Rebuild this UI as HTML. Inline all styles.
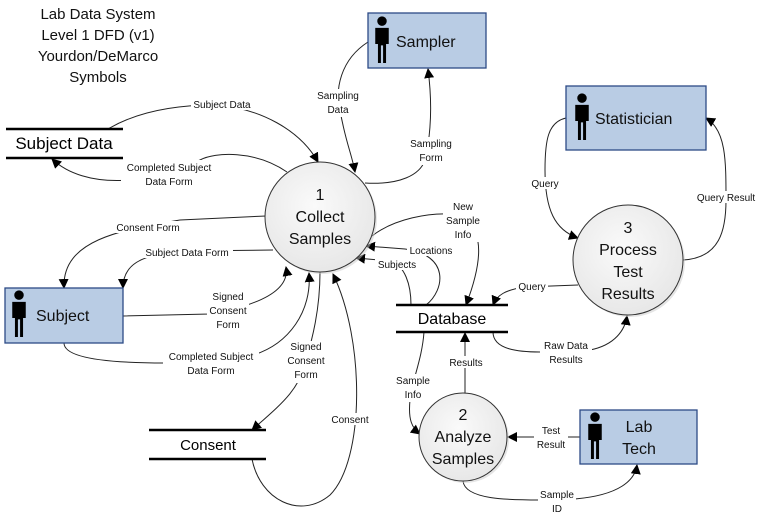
<!DOCTYPE html>
<html><head><meta charset="utf-8"><style>
html,body{margin:0;padding:0;background:#fff;}
svg{display:block;}
text{font-family:"Liberation Sans",sans-serif;}
.lbl{font-size:10px;fill:#111;text-anchor:middle;}
.e{fill:none;stroke:#222;stroke-width:1;}
.box{fill:#b9cce4;stroke:#2c4a86;stroke-width:1.3;}
.circ{fill:url(#g);stroke:#333;stroke-width:1;}
.bt{font-size:16px;fill:#111;}
.ct{font-size:16px;fill:#111;text-anchor:middle;}
.bg{fill:#fff;}
</style></head><body>
<svg width="766" height="518" viewBox="0 0 766 518" xmlns="http://www.w3.org/2000/svg">
<defs>
<marker id="a" markerWidth="10" markerHeight="10" refX="9" refY="5" orient="auto" markerUnits="userSpaceOnUse"><path d="M0,0 L10,5 L0,10 z" fill="#000"/></marker>
<radialGradient id="g" cx="45%" cy="40%" r="65%"><stop offset="0" stop-color="#fafafa"/><stop offset="1" stop-color="#e6e6e6"/></radialGradient>
<g id="p"><g transform="scale(1.35)"><circle cx="0" cy="-14" r="3.5" fill="#000"/><path d="M-5,-9 L5,-9 L5,3 L3,3 L3,17 L0.8,17 L0.8,4 L-0.8,4 L-0.8,17 L-3,17 L-3,3 L-5,3 z" fill="#000"/></g></g>
</defs>

<g font-size="15" fill="#111" text-anchor="middle">
<text x="98" y="19">Lab Data System</text>
<text x="98" y="40">Level 1 DFD (v1)</text>
<text x="98" y="61">Yourdon/DeMarco</text>
<text x="98" y="82">Symbols</text>
</g>

<path class="e" marker-end="url(#a)" d="M108,129 C140,110 180,105 215,105 C260,108 300,130 318,162"/>
<path class="e" marker-end="url(#a)" d="M287,172 C255,150 215,152 200,160 C150,185 85,190 52,159"/>
<path class="e" marker-end="url(#a)" d="M266,216 L180,220 C120,230 62,240 64,288"/>
<path class="e" marker-end="url(#a)" d="M273,250 L180,251 C140,255 123,265 123,288"/>
<path class="e" marker-end="url(#a)" d="M123,316 L210,314 C260,305 290,290 286,267"/>
<path class="e" marker-end="url(#a)" d="M64,343 C64,360 120,363 165,363 L250,356 C290,345 312,310 309,273"/>
<path class="e" marker-end="url(#a)" d="M320,272 C320,310 312,340 306,360 C300,390 280,405 252,430"/>
<path class="e" marker-end="url(#a)" d="M252,459 C260,500 300,520 330,495 C365,460 365,340 333,274"/>
<path class="e" marker-end="url(#a)" d="M368,42 C340,60 335,90 340,110 C345,140 352,155 355,172"/>
<path class="e" marker-end="url(#a)" d="M365,183 C400,185 420,175 425,160 C432,130 432,100 428,69"/>
<path class="e" marker-end="url(#a)" d="M372,236 C395,218 430,213 450,214 C482,220 487,250 466,305"/>
<path class="e" marker-end="url(#a)" d="M426,305 C445,290 450,255 405,249 L366,246"/>
<path class="e" marker-end="url(#a)" d="M411,305 C411,285 405,265 390,261 L356,258"/>
<path class="e" marker-end="url(#a)" d="M578,285 L525,287 C505,290 497,295 493,305"/>
<path class="e" marker-end="url(#a)" d="M493,332 C493,350 520,352 540,352 L590,350 C615,345 625,330 627,316"/>
<path class="e" marker-end="url(#a)" d="M465,393 L465,333"/>
<path class="e" marker-end="url(#a)" d="M424,332 C422,360 412,380 410,400 C408,420 412,428 420,434"/>
<path class="e" marker-end="url(#a)" d="M580,437 L508,437"/>
<path class="e" marker-end="url(#a)" d="M463,481 C465,500 510,500 540,500 L575,499 C620,495 635,480 637,465"/>
<path class="e" marker-end="url(#a)" d="M566,118 C548,122 545,140 545,170 C545,210 555,230 578,238"/>
<path class="e" marker-end="url(#a)" d="M683,260 C720,258 726,230 726,200 C726,160 726,130 706,118"/>

<g stroke="#000" stroke-width="2.5">
<line x1="6" y1="129" x2="123" y2="129"/><line x1="6" y1="158" x2="123" y2="158"/>
<line x1="149" y1="430" x2="266" y2="430"/><line x1="149" y1="459" x2="266" y2="459"/>
<line x1="396" y1="305" x2="508" y2="305"/><line x1="396" y1="332" x2="508" y2="332"/>
</g>
<text x="64" y="149" font-size="17" text-anchor="middle" fill="#000">Subject Data</text>
<text x="208" y="450" font-size="15" text-anchor="middle" fill="#000">Consent</text>
<text x="452" y="324" font-size="16" text-anchor="middle" fill="#000">Database</text>

<rect class="box" x="368" y="13" width="118" height="55"/>
<use href="#p" x="382" y="40"/><text class="bt" x="396" y="47">Sampler</text>
<rect class="box" x="566" y="86" width="140" height="64"/>
<use href="#p" x="582" y="117"/><text class="bt" x="595" y="124">Statistician</text>
<rect class="box" x="580" y="410" width="117" height="54"/>
<use href="#p" x="595" y="436"/><text class="bt" x="639" y="432" text-anchor="middle">Lab</text><text class="bt" x="639" y="454" text-anchor="middle">Tech</text>
<rect class="box" x="5" y="288" width="118" height="55"/>
<use href="#p" x="19" y="314"/><text class="bt" x="36" y="321">Subject</text>

<circle cx="322" cy="219" r="55" fill="#ccc" opacity="0.5"/>
<circle class="circ" cx="320" cy="217" r="55"/>
<text class="ct" x="320" y="200">1</text><text class="ct" x="320" y="222">Collect</text><text class="ct" x="320" y="244">Samples</text>
<circle cx="465" cy="439" r="44" fill="#ccc" opacity="0.5"/>
<circle class="circ" cx="463" cy="437" r="44"/>
<text class="ct" x="463" y="420">2</text><text class="ct" x="463" y="442">Analyze</text><text class="ct" x="463" y="464">Samples</text>
<circle cx="630" cy="262" r="55" fill="#ccc" opacity="0.5"/>
<circle class="circ" cx="628" cy="260" r="55"/>
<text class="ct" x="628" y="233">3</text><text class="ct" x="628" y="255">Process</text><text class="ct" x="628" y="277">Test</text><text class="ct" x="628" y="299">Results</text>

<g>
<rect class="bg" x="191" y="98" width="62" height="12"/><text class="lbl" x="222" y="108">Subject Data</text>
<rect class="bg" x="121" y="160" width="96" height="28"/><text class="lbl" x="169" y="171">Completed Subject</text><text class="lbl" x="169" y="185">Data Form</text>
<rect class="bg" x="113" y="221" width="70" height="12"/><text class="lbl" x="148" y="231">Consent Form</text>
<rect class="bg" x="141" y="246" width="92" height="12"/><text class="lbl" x="187" y="256">Subject Data Form</text>
<rect class="bg" x="207" y="290" width="42" height="42"/><text class="lbl" x="228" y="300">Signed</text><text class="lbl" x="228" y="314">Consent</text><text class="lbl" x="228" y="328">Form</text>
<rect class="bg" x="163" y="350" width="96" height="28"/><text class="lbl" x="211" y="360">Completed Subject</text><text class="lbl" x="211" y="374">Data Form</text>
<rect class="bg" x="285" y="341" width="42" height="42"/><text class="lbl" x="306" y="350">Signed</text><text class="lbl" x="306" y="364">Consent</text><text class="lbl" x="306" y="378">Form</text>
<rect class="bg" x="330" y="413" width="40" height="12"/><text class="lbl" x="350" y="423">Consent</text>
<rect class="bg" x="314" y="89" width="48" height="28"/><text class="lbl" x="338" y="99">Sampling</text><text class="lbl" x="338" y="113">Data</text>
<rect class="bg" x="407" y="137" width="48" height="28"/><text class="lbl" x="431" y="147">Sampling</text><text class="lbl" x="431" y="161">Form</text>
<rect class="bg" x="443" y="200" width="40" height="42"/><text class="lbl" x="463" y="210">New</text><text class="lbl" x="463" y="224">Sample</text><text class="lbl" x="463" y="238">Info</text>
<rect class="bg" x="407" y="244" width="48" height="12"/><text class="lbl" x="431" y="254">Locations</text>
<rect class="bg" x="375" y="258" width="44" height="12"/><text class="lbl" x="397" y="268">Subjects</text>
<rect class="bg" x="516" y="280" width="32" height="12"/><text class="lbl" x="532" y="290">Query</text>
<rect class="bg" x="540" y="339" width="52" height="28"/><text class="lbl" x="566" y="349">Raw Data</text><text class="lbl" x="566" y="363">Results</text>
<rect class="bg" x="447" y="356" width="38" height="12"/><text class="lbl" x="466" y="366">Results</text>
<rect class="bg" x="392" y="374" width="42" height="28"/><text class="lbl" x="413" y="384">Sample</text><text class="lbl" x="413" y="398">Info</text>
<rect class="bg" x="534" y="424" width="34" height="28"/><text class="lbl" x="551" y="434">Test</text><text class="lbl" x="551" y="448">Result</text>
<rect class="bg" x="538" y="488" width="38" height="28"/><text class="lbl" x="557" y="498">Sample</text><text class="lbl" x="557" y="512">ID</text>
<rect class="bg" x="528" y="177" width="34" height="12"/><text class="lbl" x="545" y="187">Query</text>
<rect class="bg" x="692" y="191" width="68" height="12"/><text class="lbl" x="726" y="201">Query Result</text>
</g>
</svg>
</body></html>
